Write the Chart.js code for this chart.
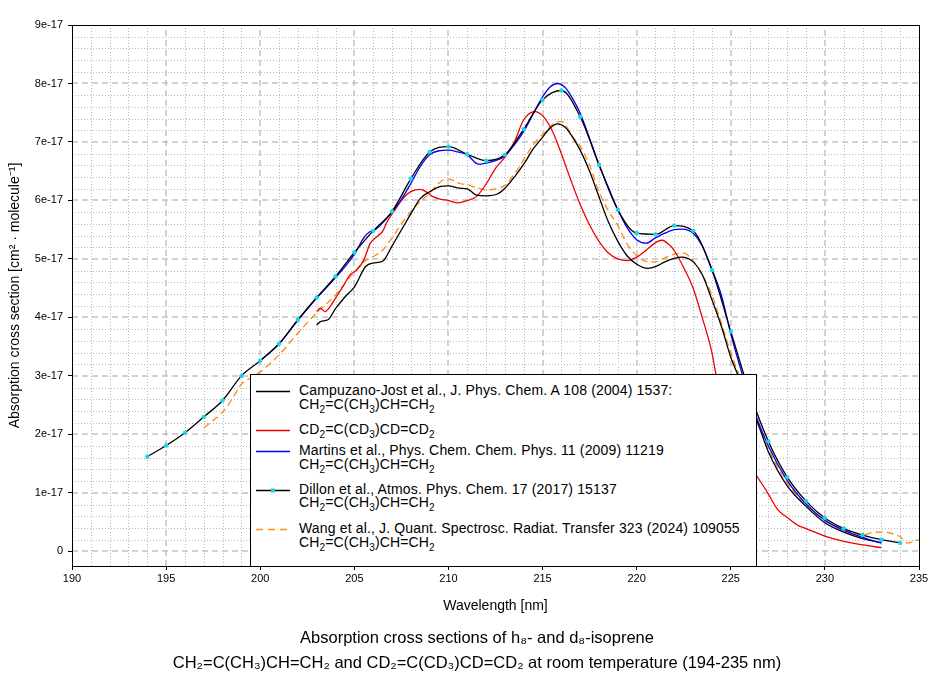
<!DOCTYPE html>
<html>
<head>
<meta charset="utf-8">
<script src="https://cdn.jsdelivr.net/npm/chart.js@4.4.0/dist/chart.umd.min.js"></script>
<style>
  html, body { margin: 0; padding: 0; background: #fff; }
  #wrap { position: relative; width: 944px; height: 682px; }
  #legend {
    position: absolute; box-sizing: border-box;
    background: #fff; border: 1px solid #000;
    font: 14px "Liberation Sans", Arial, sans-serif; color: #000;
  }
  #legend .item { position: absolute; left: 0; right: 0; }
  #legend svg { position: absolute; left: 5px; top: 3px; }
  #legend .txt { position: absolute; left: 48px; line-height: 13.7px; white-space: nowrap; letter-spacing: 0.15px; }
  #legend sub { font-size: 10px; vertical-align: baseline; position: relative; top: 4px; line-height: 0; }
</style>
</head>
<body>
<div id="wrap">
  <canvas id="chart" width="944" height="682"></canvas>
  <div id="legend"></div>
</div>
<script>
const FONT = '"Liberation Sans", Arial, sans-serif';

// cross sections in units of 1e-17 cm2 molecule-1

// Campuzano-Jost et al. 2004, h8-isoprene
const cjH8Nm = [203,203.2,203.6,204,204.5,205,205.6,206,206.5,207,207.6,208,208.5,209,209.6,210,210.6,211,211.5,212,
  212.6,213,213.5,214,214.5,215,215.4,215.8,216.2,216.6,217,217.5,218,218.5,219,219.5,220,220.6,221,221.5,
  222,222.4,223,223.5,224,224.5,225,225.4,226,226.4,227,228,229,230,231,232,233];
const cjH8Xs = [3.87,3.93,3.96,4.15,4.35,4.52,4.87,4.93,4.96,5.22,5.55,5.77,6.03,6.15,6.24,6.25,6.21,6.20,6.09,6.08,
  6.11,6.21,6.40,6.62,6.88,7.08,7.24,7.31,7.25,7.08,6.86,6.50,6.06,5.63,5.30,5.05,4.91,4.84,4.87,4.95,
  5.01,5.03,4.95,4.72,4.30,3.85,3.32,3.00,2.50,2.22,1.70,1.12,0.77,0.49,0.33,0.22,0.15];

// Campuzano-Jost et al. 2004, d8-isoprene
const cjD8Nm = [203,203.2,203.45,203.7,204,204.4,204.8,205.1,205.5,205.85,206.2,206.5,206.75,207.1,207.6,208,208.5,208.8,209.2,209.6,
  210,210.5,211,211.5,212,212.5,213,213.5,214,214.6,215,215.5,216,216.5,217,217.5,218,218.5,219,219.5,
  220,220.5,221,221.35,221.8,222,222.5,223,223.5,224,224.2,225,225.5,226,226.4,227,227.5,228,228.6,229,
  230,231,232,233];
const cjD8Xs = [4.10,4.16,4.10,4.18,4.33,4.53,4.74,4.80,4.98,5.27,5.38,5.47,5.64,5.81,6.04,6.15,6.19,6.15,6.06,6.02,
  6.00,5.96,6.00,6.07,6.28,6.55,6.74,7.00,7.38,7.52,7.45,7.20,6.80,6.35,5.93,5.58,5.30,5.10,5.00,4.97,
  5.03,5.15,5.28,5.32,5.22,5.14,4.85,4.50,3.98,3.40,3.05,2.25,1.78,1.47,1.28,0.98,0.71,0.58,0.44,0.39,
  0.26,0.17,0.11,0.065];

// Martins et al. 2009
const martinsNm = [200,201,202,203,204,205,205.5,205.8,206,206.3,207,207.5,208,208.5,209,209.5,210,210.5,211,211.6,
  212,212.5,213,213.5,214,214.5,215,215.4,215.8,216.2,216.6,217,217.5,218,218.5,219,219.5,220,220.5,221,
  221.5,222,222.4,223,223.5,224,224.5,225,225.5,226,227,228,229,230,231,232,233];
const martinsXs = [3.26,3.55,3.95,4.33,4.68,5.08,5.36,5.46,5.48,5.55,5.80,6.02,6.29,6.58,6.78,6.85,6.86,6.83,6.78,6.62,
  6.64,6.68,6.76,6.95,7.18,7.48,7.77,7.94,8.00,7.93,7.74,7.49,7.06,6.61,6.22,5.84,5.53,5.33,5.27,5.36,
  5.44,5.50,5.51,5.44,5.21,4.82,4.38,3.72,3.15,2.62,1.80,1.21,0.81,0.53,0.36,0.24,0.14];

// Dillon et al. 2017 (1 nm steps)
const dillonNm = [194,195,196,197,198,199,200,201,202,203,204,205,206,207,208,209,210,211,212,213,
  214,215,216,217,218,219,220,221,222,223,224,225,226,227,228,229,230,231,232,233,234];
const dillonXs = [1.62,1.81,2.03,2.30,2.58,3.00,3.26,3.55,3.96,4.34,4.70,5.11,5.48,5.81,6.37,6.83,6.92,6.79,6.68,6.78,
  7.22,7.72,7.88,7.43,6.61,5.84,5.44,5.42,5.57,5.48,4.81,3.76,2.72,1.88,1.27,0.86,0.57,0.39,0.28,0.20,0.145];

// Wang et al. 2024
const wangNm = [197,197.5,198,198.5,199,199.5,200,201,202,203,204,205,205.5,206,206.5,207,207.5,208,208.5,209,
  209.5,209.9,210.3,210.6,211,211.5,212,212.5,213,213.5,214,214.5,215,215.3,215.6,216,216.3,216.6,217,217.5,
  218,218.5,219,219.5,220,220.5,221,221.5,222,222.5,223,223.5,224,224.5,225,225.4,226,227,228,229,
  230,231,232,232.5,233,233.5,234,234.4,234.7,235];
const wangXs = [2.11,2.24,2.38,2.60,2.86,2.97,3.07,3.36,3.73,4.08,4.38,4.78,4.95,5.04,5.15,5.36,5.60,5.81,5.98,6.12,
  6.30,6.37,6.34,6.29,6.27,6.22,6.18,6.20,6.26,6.45,6.70,6.95,7.13,7.22,7.32,7.35,7.25,7.09,6.93,6.60,
  6.15,5.82,5.57,5.25,5.06,4.96,4.95,5.02,5.08,5.10,4.97,4.72,4.38,3.90,3.40,3.05,2.55,1.75,1.17,0.80,
  0.53,0.38,0.28,0.32,0.33,0.31,0.25,0.14,0.17,0.20];

const yTickValues = [0,1,2,3,4,5,6,7,8,9];
const yTickLabels = ['0','1e-17','2e-17','3e-17','4e-17','5e-17','6e-17','7e-17','8e-17','9e-17'];

const legendTexts = [
  ['Campuzano-Jost et al., J. Phys. Chem. A 108 (2004) 1537:', 'CH<sub>2</sub>=C(CH<sub>3</sub>)CH=CH<sub>2</sub>'],
  ['CD<sub>2</sub>=C(CD<sub>3</sub>)CD=CD<sub>2</sub>'],
  ['Martins et al., Phys. Chem. Chem. Phys. 11 (2009) 11219', 'CH<sub>2</sub>=C(CH<sub>3</sub>)CH=CH<sub>2</sub>'],
  ['Dillon et al., Atmos. Phys. Chem. 17 (2017) 15137', 'CH<sub>2</sub>=C(CH<sub>3</sub>)CH=CH<sub>2</sub>'],
  ['Wang et al., J. Quant. Spectrosc. Radiat. Transfer 323 (2024) 109055', 'CH<sub>2</sub>=C(CH<sub>3</sub>)CH=CH<sub>2</sub>'],
];

const titleLines = [
  'Absorption cross sections of h\u2088- and d\u2088-isoprene',
  'CH\u2082=C(CH\u2083)CH=CH\u2082 and CD\u2082=C(CD\u2083)CD=CD\u2082 at room temperature (194-235 nm)'
];

function pts(xs, ys) {
  return xs.map((x, i) => ({ x: x, y: ys[i] }));
}

function line(ctx, x1, y1, x2, y2) {
  ctx.beginPath();
  ctx.moveTo(x1, y1);
  ctx.lineTo(x2, y2);
  ctx.stroke();
}

// SigmaPlot style grid: dotted minor lines, dashed major lines, full black frame
const gridPlugin = {
  id: 'plotGrid',
  beforeDatasetsDraw(chart) {
    const { ctx, chartArea: a, scales: { x, y } } = chart;
    ctx.save();
    ctx.beginPath();
    ctx.rect(a.left, a.top, a.right - a.left, a.bottom - a.top);
    ctx.clip();

    ctx.strokeStyle = '#b8b8b8';
    ctx.lineWidth = 1;
    ctx.setLineDash([1, 2]);
    for (let w = 191; w < 235; w++) {
      if (w % 5 === 0) continue;
      const px = Math.round(x.getPixelForValue(w)) + 0.5;
      line(ctx, px, a.top, px, a.bottom);
    }
    for (let k = 1; k < 45; k++) {
      if (k % 5 === 0) continue;
      const py = Math.round(y.getPixelForValue(k / 5)) + 0.5;
      line(ctx, a.left, py, a.right, py);
    }

    ctx.strokeStyle = '#c4c4c4';
    ctx.lineWidth = 1.5;
    ctx.setLineDash([6, 4]);
    for (let w = 195; w < 235; w += 5) {
      const px = Math.round(x.getPixelForValue(w));
      line(ctx, px, a.bottom, px, a.top);
    }
    yTickValues.forEach(v => {
      const py = Math.round(y.getPixelForValue(v));
      line(ctx, a.left, py, a.right, py);
    });
    ctx.restore();
  },
  afterDatasetsDraw(chart) {
    const { ctx, chartArea: a } = chart;
    ctx.save();
    ctx.strokeStyle = '#000';
    ctx.lineWidth = 1;
    ctx.strokeRect(Math.round(a.left) + 0.5, Math.round(a.top) + 0.5,
      Math.round(a.right - a.left), Math.round(a.bottom - a.top));
    ctx.restore();
  }
};

const base = { pointRadius: 0, borderWidth: 1.3, fill: false, cubicInterpolationMode: 'monotone' };

const chart = new Chart(document.getElementById('chart'), {
  type: 'line',
  data: {
    datasets: [
      Object.assign({}, base, { label: 'Campuzano-Jost h8', data: pts(cjH8Nm, cjH8Xs), borderColor: '#000000', order: 3 }),
      Object.assign({}, base, { label: 'Campuzano-Jost d8', data: pts(cjD8Nm, cjD8Xs), borderColor: '#ee0000', order: 4 }),
      Object.assign({}, base, { label: 'Martins', data: pts(martinsNm, martinsXs), borderColor: '#0000ff', order: 2 }),
      Object.assign({}, base, {
        label: 'Dillon', data: pts(dillonNm, dillonXs), borderColor: '#000000', order: 1,
        pointRadius: 2.2, pointBorderWidth: 0, pointBackgroundColor: '#14d8e8', pointStyle: 'circle'
      }),
      Object.assign({}, base, { label: 'Wang', data: pts(wangNm, wangXs), borderColor: '#ff8a12', borderDash: [7, 4], order: 5 }),
    ]
  },
  options: {
    responsive: false,
    animation: false,
    events: [],
    layout: { padding: { top: 25, right: 0, left: 10, bottom: 0 } },
    plugins: {
      legend: { display: false },
      tooltip: { enabled: false },
      title: {
        display: true,
        position: 'bottom',
        text: titleLines,
        color: '#000',
        font: { family: FONT, size: 16.5, weight: 'normal', lineHeight: '25px' },
        padding: { top: 4, bottom: 6 },
      },
    },
    scales: {
      x: {
        type: 'linear',
        min: 190,
        max: 235,
        afterFit: (s) => { s.height = 56; },
        ticks: { stepSize: 5, color: '#000', font: { family: FONT, size: 11 }, padding: 2, maxRotation: 0 },
        grid: { drawOnChartArea: false, drawTicks: true, tickLength: 4, tickColor: '#000' },
        border: { color: '#000' },
        title: {
          display: true, text: 'Wavelength [nm]', color: '#000',
          font: { family: FONT, size: 14 }, padding: { top: 0, bottom: 7 }
        },
      },
      y: {
        type: 'linear',
        min: -0.25,
        max: 9,
        afterBuildTicks: (s) => { s.ticks = yTickValues.map(v => ({ value: v })); },
        afterFit: (s) => { s.width = 62; },
        ticks: {
          color: '#000', font: { family: FONT, size: 11 }, padding: 5,
          callback: (v) => yTickLabels[yTickValues.indexOf(v)],
        },
        grid: { drawOnChartArea: false, drawTicks: true, tickLength: 4, tickColor: '#000' },
        border: { color: '#000' },
        title: {
          display: true, text: 'Absorption cross section [cm\u00b2 \u00b7 molecule\u207b\u00b9]', color: '#000',
          font: { family: FONT, size: 14 }, padding: { top: -3, bottom: 0 }
        },
      },
      // empty right axis, only keeps the right margin
      yRight: {
        type: 'linear',
        position: 'right',
        min: -0.25,
        max: 9,
        afterFit: (s) => { s.width = 25; },
        ticks: { display: false },
        grid: { display: false },
        border: { display: false },
      },
    },
  },
  plugins: [gridPlugin],
});

// legend box inside the plot, lower middle
(function buildLegend() {
  const box = document.getElementById('legend');
  const a = chart.chartArea;
  const x = chart.scales.x, y = chart.scales.y;
  const left = Math.round(x.getPixelForValue(199.45));
  const right = Math.round(x.getPixelForValue(226.35));
  const top = Math.round(y.getPixelForValue(3.04));
  box.style.left = left + 'px';
  box.style.top = top + 'px';
  box.style.width = (right - left + 1) + 'px';
  box.style.height = (Math.round(a.bottom) - top + 1) + 'px';

  const rowCenters = [16.7, 56, 77, 115.5, 155];
  chart.data.datasets.forEach((ds, i) => {
    const item = document.createElement('div');
    item.className = 'item';
    item.style.top = (rowCenters[i] - 7.85) + 'px';
    const dash = ds.borderDash ? ' stroke-dasharray="7 5"' : '';
    let svg = '<svg width="36" height="8"><line x1="0" y1="4.5" x2="34" y2="4.5" stroke="' + ds.borderColor +
      '" stroke-width="1.3"' + dash + '/>';
    if (ds.pointRadius > 0) {
      svg += '<rect x="15" y="2.5" width="4" height="4" fill="' + ds.pointBackgroundColor + '"/>';
    }
    svg += '</svg>';
    item.innerHTML = svg + '<div class="txt">' + legendTexts[i].join('<br>') + '</div>';
    box.appendChild(item);
  });
})();
</script>
</body>
</html>
